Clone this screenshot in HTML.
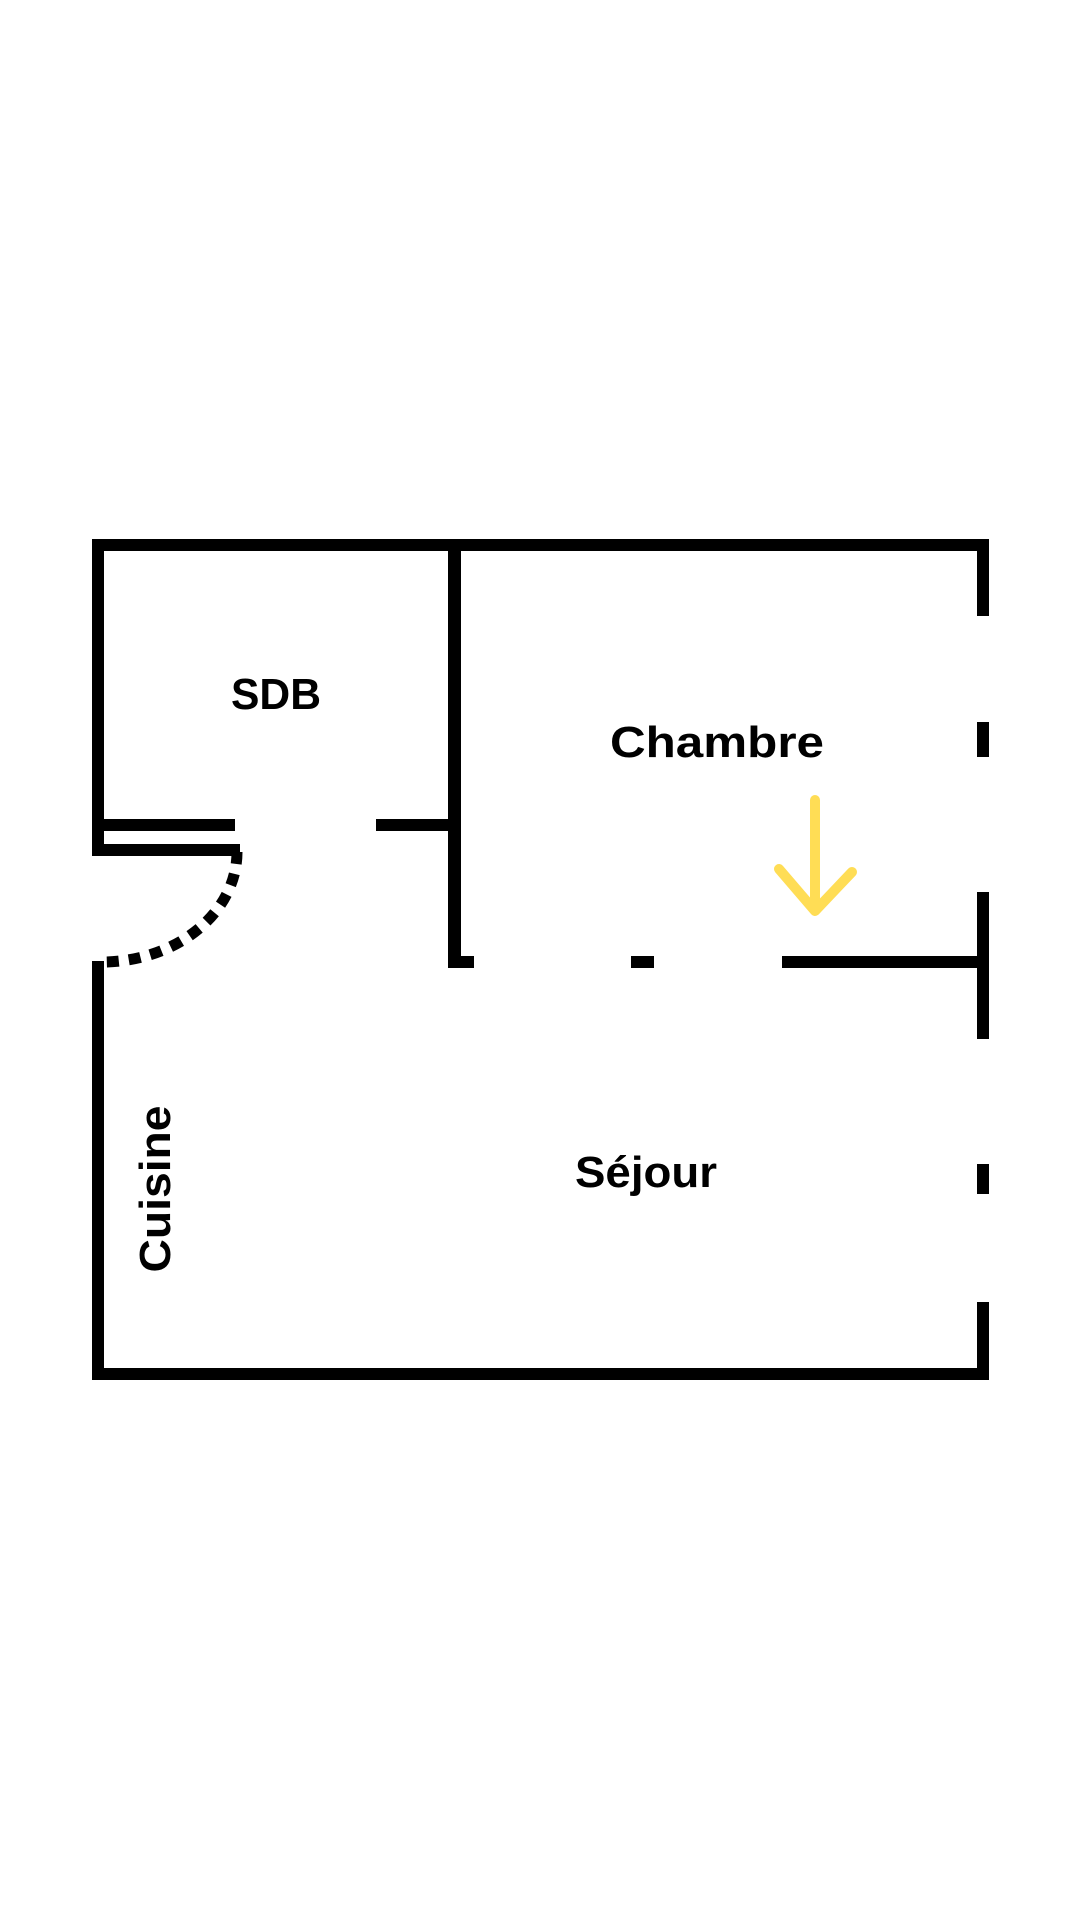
<!DOCTYPE html>
<html><head><meta charset="utf-8"><style>html,body{margin:0;padding:0;background:#fff}svg{display:block}</style></head>
<body>
<svg width="1080" height="1920" viewBox="0 0 1080 1920" xmlns="http://www.w3.org/2000/svg">
<rect width="1080" height="1920" fill="#fff"/>
<g fill="#000">
<rect x="92" y="539" width="897" height="12"/>
<rect x="92" y="539" width="12" height="317"/>
<rect x="448" y="539" width="13" height="429"/>
<rect x="92" y="819" width="143" height="12"/>
<rect x="376" y="819" width="85" height="12"/>
<rect x="92" y="844" width="148" height="12"/>
<rect x="448" y="956" width="26" height="12"/>
<rect x="631" y="956" width="23" height="12"/>
<rect x="782" y="956" width="200" height="12"/>
<rect x="977" y="539" width="12" height="77"/>
<rect x="977" y="722" width="12" height="35"/>
<rect x="977" y="892" width="12" height="147"/>
<rect x="977" y="1164" width="12" height="30"/>
<rect x="977" y="1302" width="12" height="78"/>
<rect x="92" y="961" width="12" height="419"/>
<rect x="92" y="1368" width="897" height="12"/>
</g>
<path d="M237 852 A135 110 0 0 1 104 962" fill="none" stroke="#000" stroke-width="11" stroke-dasharray="12 10"/>
<g stroke="#FFDD55" stroke-width="10" stroke-linecap="round" stroke-linejoin="round" fill="none">
<line x1="815" y1="800" x2="815" y2="908"/>
<polyline points="779,869 815,911 852,872"/>
</g>
<g font-family="Liberation Sans, sans-serif" font-weight="bold" fill="#000">
<text x="276" y="709" font-size="44" text-anchor="middle" textLength="90" lengthAdjust="spacingAndGlyphs">SDB</text>
<text x="717" y="757" font-size="44" text-anchor="middle" textLength="214" lengthAdjust="spacingAndGlyphs">Chambre</text>
<text x="646" y="1187" font-size="44" text-anchor="middle" textLength="142" lengthAdjust="spacingAndGlyphs">Séjour</text>
<text transform="translate(170 1189) rotate(-90)" x="0" y="0" font-size="44" text-anchor="middle" textLength="167" lengthAdjust="spacingAndGlyphs">Cuisine</text>
</g>
</svg>
</body></html>
